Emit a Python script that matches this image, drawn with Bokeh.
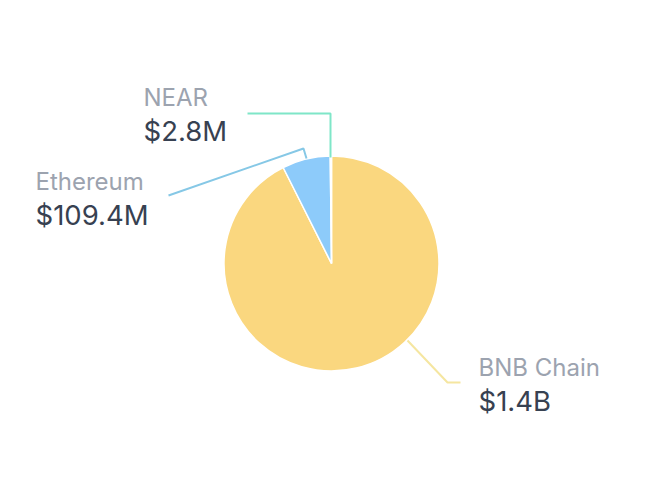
import math
from bokeh.plotting import figure
from bokeh.models import Range1d, ColumnDataSource
from bokeh.core.properties import value
from bokeh.embed import file_html
from bokeh.resources import INLINE

# Data
chains = ["BNB Chain", "Ethereum", "NEAR"]
tvl_millions = [1400.0, 109.4, 2.8]
value_labels = ["$1.4B", "$109.4M", "$2.8M"]

# Style
slice_colors = ["#FAD77F", "#8DCBFA", "#6EE7B7"]
leader_colors = ["#F5E6A0", "#86C8E6", "#7FE6C8"]

W, H = 638, 480
CX, CY, R = 331, H - 263, 107.5

def py(y):
    """Screenshot y (from the top) to figure y."""
    return H - y

def px(x):
    return x

total = sum(tvl_millions)
starts, ends = [], []
angle = math.pi / 2
for v in tvl_millions:
    starts.append(angle)
    angle -= 2 * math.pi * v / total
    ends.append(angle)

p = figure(width=W, height=H, output_backend="svg", toolbar_location=None,
           x_range=Range1d(0, W), y_range=Range1d(0, H), min_border=0,
           background_fill_color="white", border_fill_color="white")
p.axis.visible = False
p.grid.visible = False
p.outline_line_color = None

src = ColumnDataSource(dict(x=[CX] * 3, y=[CY] * 3, start=starts, end=ends, color=slice_colors))
p.wedge(x="x", y="y", radius=R, start_angle="start", end_angle="end", direction="clock",
        fill_color="color", line_color="white", line_width=1.5, source=src)

# Leader lines: layout paths in screenshot pixels
leaders = [
    [(407, 340), (447, 382), (460, 382)],
    [(306, 158), (303, 148), (168, 195)],
    [(330, 157), (330, 113), (247, 113)],
]
for path, c in zip(leaders, leader_colors):
    p.line([px(a) for a, _ in path], [py(b) for _, b in path], line_color=c, line_width=2)

# Label anchors: (x, name baseline, value baseline) in screenshot pixels
anchors = [(478, 367, 400), (35, 181, 214), (143, 97, 130)]
for name, val, (x, b1, b2) in zip(chains, value_labels, anchors):
    p.text([px(x)], [py(b1)], text=[name], text_font=value("Inter"), text_font_size="24px",
           text_color="#9CA3AF", text_baseline="alphabetic", text_align="left")
    p.text([px(x)], [py(b2)], text=[val], text_font=value("Inter"), text_font_size="27.5px",
           text_color="#374151", text_baseline="alphabetic", text_align="left")

open("out.html", "w").write(file_html(p, INLINE))
